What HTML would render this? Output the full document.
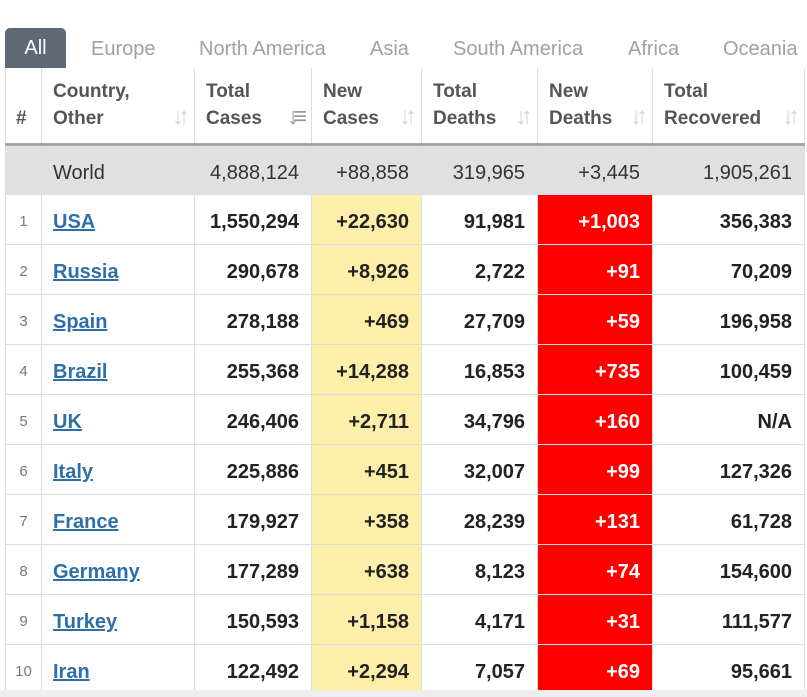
<!DOCTYPE html>
<html><head><meta charset="utf-8"><style>
body{margin:0;width:807px;height:697px;background:#fff;overflow:hidden;font-family:"Liberation Sans",Arial,sans-serif;position:relative}
.tab{position:absolute;top:29px;height:40px;line-height:40px;font-size:20px;color:#9aa2aa}
#tab-all{left:5px;width:61px;top:28px;background:#5f6a75;color:#fff;text-align:center;border-radius:5px 5px 0 0}
.c{position:absolute;box-sizing:border-box;border-right:1px solid #ddd;border-bottom:1px solid #ddd}
.h{font-weight:bold;color:#555;font-size:19px;line-height:27px;padding:10px 0 0 11px}
.s{position:absolute;right:10px;bottom:14px;color:#d4d4d4;font-size:24px;letter-spacing:-6px;font-weight:bold}
.v{font-size:20px;text-align:right;padding-right:12px;line-height:50px;padding-top:2px;font-weight:bold;color:#222}
</style></head><body>
<div id="tab-all" class="tab">All</div>
<div class="tab" style="left:91px">Europe</div>
<div class="tab" style="left:199px">North America</div>
<div class="tab" style="left:370px">Asia</div>
<div class="tab" style="left:453px">South America</div>
<div class="tab" style="left:628px">Africa</div>
<div class="tab" style="left:723px">Oceania</div>
<div id="tbl"></div>
<div style="position:absolute;left:0;top:690px;width:807px;height:7px;background:#eee"></div>
<script>
const headers=[["#",""],["Country,","Other"],["Total","Cases"],["New","Cases"],["Total","Deaths"],["New","Deaths"],["Total","Recovered"]];
const world=["","World","4,888,124","+88,858","319,965","+3,445","1,905,261"];
const countries=["USA","Russia","Spain","Brazil","UK","Italy","France","Germany","Turkey","Iran"];
const totalCases=["1,550,294","290,678","278,188","255,368","246,406","225,886","179,927","177,289","150,593","122,492"];
const newCases=["+22,630","+8,926","+469","+14,288","+2,711","+451","+358","+638","+1,158","+2,294"];
const totalDeaths=["91,981","2,722","27,709","16,853","34,796","32,007","28,239","8,123","4,171","7,057"];
const newDeaths=["+1,003","+91","+59","+735","+160","+99","+131","+74","+31","+69"];
const recovered=["356,383","70,209","196,958","100,459","N/A","127,326","61,728","154,600","111,577","95,661"];
const xs=[5,42,195,312,422,538,653,805];
const T=document.getElementById('tbl');
function cell(ci,top,h,bg){const d=document.createElement('div');d.className='c';
d.style.left=xs[ci]+'px';d.style.top=top+'px';d.style.width=(xs[ci+1]-xs[ci])+'px';d.style.height=h+'px';
if(bg)d.style.background=bg;if(ci==0)d.style.borderLeft='1px solid #ddd';T.appendChild(d);return d;}
headers.forEach((h,i)=>{const d=cell(i,68,77);d.classList.add('h');


if(i==0){d.innerHTML='<div style="padding-top:27px">#</div>';d.style.paddingLeft='10px';}
else{d.innerHTML=h[0]+'<br>'+h[1]+'<span class="s">'+(i==2?'<span style="color:#999">↓≡</span>':'↓↑')+'</span>';}});
const sh=document.createElement('div');sh.style.cssText='position:absolute;left:5px;top:143px;width:800px;height:3px;background:#888;opacity:.7';


T.appendChild(sh);
world.forEach((v,i)=>{const d=cell(i,146,49,'#e0e0e0');d.classList.add('v');d.style.fontWeight='normal';d.style.color='#333';
if(i==1){d.style.textAlign='left';d.style.paddingLeft='11px';}d.textContent=v;

});
countries.forEach((c,r)=>{const top=195+r*50;
const vals=[String(r+1),c,totalCases[r],newCases[r],totalDeaths[r],newDeaths[r],recovered[r]];
vals.forEach((v,i)=>{const bg=i==3?'#fdeeaa':i==5?'#ff0000':null;const d=cell(i,top,50,bg);d.classList.add('v');
if(i==0){d.style.fontWeight='normal';d.style.fontSize='15px';d.style.color='#777';d.style.textAlign='center';d.style.paddingRight='0';}
if(i==1){d.style.textAlign='left';d.style.paddingLeft='11px';d.innerHTML='<span style="color:#2f6fa7;text-decoration:underline">'+v+'</span>';
}else{d.textContent=v;
}
if(i==5)d.style.color='#fff';
});});
</script>
</body></html>
